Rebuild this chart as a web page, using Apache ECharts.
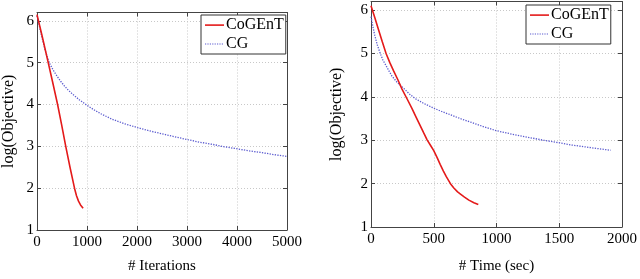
<!DOCTYPE html>
<html>
<head>
<meta charset="utf-8">
<script src="https://cdn.jsdelivr.net/npm/echarts@6/dist/echarts.min.js"></script>
<style>
html,body{margin:0;padding:0;background:#fff;}
#c{width:640px;height:279px;}
</style>
</head>
<body>
<div id="c"></div>
<script>
// ---- data ----
var seriesNames = ['CoGEnT', 'CG'];
var iterTicks = [0, 1000, 2000, 3000, 4000, 5000];
var timeTicks = [0, 500, 1000, 1500, 2000];
var objTicks = [1, 2, 3, 4, 5, 6];

// left panel: log(objective) vs iterations
var cogentIter = [[0,6.15],[100,5.65],[213,5.06],[310,4.55],[412,4.0],[490,3.53],[575,3.0],[660,2.5],[750,2.0],[790,1.82],[830,1.69],[870,1.6],[922,1.52]];
var cgIter = [[0,6.12],[100,5.6],[170,5.27],[245,5.0],[320,4.83],[400,4.68],[470,4.56],[544,4.45],[620,4.35],[700,4.26],[850,4.11],[1000,3.98],[1130,3.88],[1275,3.78],[1500,3.65],[1750,3.54],[2006,3.45],[2250,3.37],[2500,3.3],[2750,3.23],[3014,3.16],[3250,3.1],[3500,3.05],[3750,2.99],[4010,2.94],[4250,2.89],[4500,2.85],[4750,2.8],[5000,2.76]];

// right panel: log(objective) vs time (sec)
var cogentTime = [[0,6.1],[30,5.83],[60,5.55],[90,5.27],[120,5.0],[150,4.79],[180,4.6],[215,4.39],[247,4.18],[290,3.94],[327,3.73],[360,3.53],[390,3.35],[420,3.17],[447,3.01],[475,2.88],[500,2.76],[527,2.6],[552,2.44],[577,2.29],[600,2.16],[633,2.0],[660,1.9],[690,1.81],[713,1.76],[745,1.69],[780,1.62],[820,1.56],[855,1.52]];
var cgTime = [[0,5.85],[15,5.62],[30,5.42],[50,5.2],[74,5.0],[95,4.85],[120,4.72],[145,4.59],[167,4.48],[210,4.33],[260,4.2],[305,4.07],[353,3.96],[420,3.85],[500,3.74],[575,3.65],[650,3.57],[720,3.49],[792,3.42],[900,3.31],[1000,3.22],[1125,3.14],[1250,3.07],[1375,3.0],[1505,2.94],[1600,2.89],[1700,2.85],[1800,2.81],[1910,2.77]];

// ---- styling ----
var FONT = 'Liberation Serif';
var RED = '#e41a1a';
var BLUE = '#5b5bcf';
var FRAME = '#444';

// legend icons: thin solid line / dotted line in a 19x14 box
var ICON_SOLID = 'path://M0,0M19,14M0,6.3h19v1.6h-19z';
var ICON_DOT = (function () {
  var p = 'path://M0,0M19,14';
  for (var x = 0; x < 19; x += 2.4) p += 'M' + x.toFixed(1) + ',6.4h1.2v1.2h-1.2z';
  return p;
})();

function gridDef(left, top, width, height) {
  return {left: left, top: top, width: width, height: height, show: false};
}
function xAxes(gi, max, interval, title, gap) {
  return [{
    type: 'value', gridIndex: gi, min: 0, max: max, interval: interval, position: 'bottom',
    name: title, nameLocation: 'middle', nameGap: gap,
    nameTextStyle: {fontFamily: FONT, fontSize: 15, color: '#000'},
    axisLine: {show: true, onZero: false, lineStyle: {color: FRAME, width: 1}},
    axisTick: {show: true, inside: true, length: 4, lineStyle: {color: FRAME}},
    axisLabel: {fontFamily: FONT, fontSize: 15, color: '#000', margin: 5,
      formatter: function (v) { return String(v); }},
    splitLine: {show: true, lineStyle: {color: '#c8c8c8', type: [1, 2], width: 1}}
  }, {
    type: 'value', gridIndex: gi, min: 0, max: max, interval: interval, position: 'top',
    axisLine: {show: true, onZero: false, lineStyle: {color: FRAME, width: 1}},
    axisTick: {show: true, inside: true, length: 4, lineStyle: {color: FRAME}},
    axisLabel: {show: false}, splitLine: {show: false}
  }];
}
function yAxes(gi, title, gap) {
  return [{
    type: 'value', gridIndex: gi, min: 1, max: 6.2, interval: 1, position: 'left',
    name: title, nameLocation: 'middle', nameGap: gap,
    nameTextStyle: {fontFamily: FONT, fontSize: 16, color: '#000'},
    axisLine: {show: true, onZero: false, lineStyle: {color: FRAME, width: 1}},
    axisTick: {show: true, inside: true, length: 4, lineStyle: {color: FRAME}},
    axisLabel: {fontFamily: FONT, fontSize: 15, color: '#000', margin: 3, showMaxLabel: false,
      formatter: function (v) { return objTicks.indexOf(v) >= 0 ? String(v) : ''; }},
    splitLine: {show: true, lineStyle: {color: '#c8c8c8', type: [1, 2], width: 1}}
  }, {
    type: 'value', gridIndex: gi, min: 1, max: 6.2, interval: 1, position: 'right',
    axisLine: {show: true, onZero: false, lineStyle: {color: FRAME, width: 1}},
    axisTick: {show: true, inside: true, length: 4, lineStyle: {color: FRAME}},
    axisLabel: {show: false}, splitLine: {show: false}
  }];
}
function lineSeries(name, data, xi, yi) {
  var isRed = name === seriesNames[0];
  return {
    type: 'line', name: name, data: data, xAxisIndex: xi, yAxisIndex: yi,
    showSymbol: false, symbol: 'none', smooth: false,
    lineStyle: isRed ? {color: RED, width: 1.6, type: 'solid'} : {color: BLUE, width: 1.3, type: [1.3, 1.3]},
    itemStyle: {color: isRed ? RED : BLUE},
    z: isRed ? 3 : 2, animation: false
  };
}
function legendDef(left, top) {
  return {
    orient: 'vertical', left: left, top: top, align: 'left',
    data: [{name: seriesNames[0], icon: ICON_SOLID}, {name: seriesNames[1], icon: ICON_DOT}],
    itemWidth: 19, itemHeight: 14, itemGap: 3,
    padding: [2, 2, 2, 4],
    backgroundColor: '#fff', borderColor: '#333', borderWidth: 1, borderRadius: 0,
    textStyle: {fontFamily: FONT, fontSize: 16, color: '#000', padding: [0, 0, 0, -3], lineHeight: 15},
    selectedMode: false
  };
}

var chart = echarts.init(document.getElementById('c'), null, {renderer: 'canvas'});
var xa = xAxes(0, 5000, 1000, '# Iterations', 29).concat(xAxes(1, 2000, 500, '# Time (sec)', 32));
var ya = yAxes(0, 'log(Objective)', 20).concat(yAxes(1, 'log(Objective)', 26));
chart.setOption({
  animation: false,
  backgroundColor: '#fff',
  grid: [gridDef(36, 12.5, 251, 221), gridDef(371, 1.5, 251, 228.5)],
  xAxis: xa,
  yAxis: ya,
  legend: [legendDef(201, 15), legendDef(526, 5)],
  series: [
    lineSeries('CoGEnT', cogentIter, 0, 0),
    lineSeries('CG', cgIter, 0, 0),
    lineSeries('CoGEnT', cogentTime, 2, 2),
    lineSeries('CG', cgTime, 2, 2)
  ]
});
</script>
</body>
</html>
